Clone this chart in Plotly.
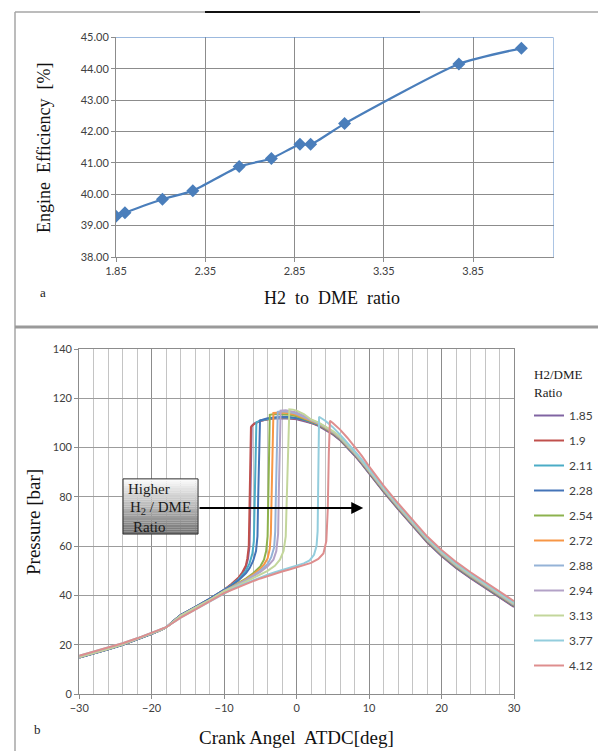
import plotly.graph_objects as go

# ---------------- Panel a: efficiency vs H2/DME ratio ----------------
ratio = [1.85, 1.90, 2.11, 2.28, 2.54, 2.72, 2.88, 2.94, 3.13, 3.77, 4.12]
efficiency = [39.30, 39.41, 39.84, 40.11, 40.88, 41.14, 41.59, 41.59, 42.25, 44.15, 44.65]

# ---------------- Panel b: pressure traces ----------------
series_names = ["1.85", "1.9", "2.11", "2.28", "2.54", "2.72", "2.88", "2.94", "3.13", "3.77", "4.12"]
series_colors = ["#8064A2", "#C0504D", "#4BACC6", "#4474B8", "#8DB24E", "#F79646",
                 "#95B3D7", "#B3A2C7", "#C3D69B", "#93CDDD", "#DE8E8E"]

comp_angle = [-30, -28, -26, -24, -22, -20, -19, -18, -17, -16, -14, -12, -10]
comp_p_early = [14.8, 16.4, 18.1, 20.0, 22.1, 24.4, 25.6, 27.0, 29.6, 32.0, 35.3, 38.6, 42.3]
comp_p_mid = [15.0, 16.6, 18.3, 20.2, 22.3, 24.6, 25.7, 27.0, 29.4, 31.7, 34.9, 38.1, 41.7]
comp_p_late = [15.5, 17.1, 18.8, 20.6, 22.6, 24.9, 25.9, 27.1, 29.0, 31.0, 34.2, 37.5, 40.9]

exp_angle = [2, 3, 4, 5, 6, 7, 8, 9, 10, 12, 14, 16, 18, 20, 22, 24, 26, 28, 30]
exp_angle_late = [8, 9, 10, 12, 14, 16, 18, 20, 22, 24, 26, 28, 30]

# combustion region (angle, pressure) per series
burn_angle_185 = [-9, -8, -7.5, -7, -6.7, -6.5, -6.4, -6.3, -6.2, -5.8, -5, -4, -3, -2, -1, 0, 1]
burn_p_185 = [44.4, 47.0, 48.9, 51.5, 55.0, 60.0, 72.0, 92.0, 108.8, 109.8, 110.8, 111.5, 111.8, 111.9, 111.8, 111.5, 110.9]
exp_p_185 = [110.0, 108.8, 107.2, 105.3, 103.0, 100.0, 96.8, 93.3, 89.5, 82.0, 75.0, 68.2, 61.6, 56.0, 51.2, 47.0, 43.1, 39.2, 35.3]

burn_angle_19 = [-9, -8, -7.5, -7, -6.8, -6.6, -6.5, -6.4, -6.3, -5.9, -5, -4, -3, -2, -1, 0, 1]
burn_p_19 = [44.6, 47.3, 49.3, 52.2, 55.0, 60.0, 72.0, 92.0, 108.3, 109.5, 110.9, 111.6, 112.0, 112.1, 112.0, 111.7, 111.1]
exp_p_19 = [110.2, 109.0, 107.4, 105.5, 103.2, 100.2, 97.0, 93.5, 89.7, 82.2, 75.2, 68.4, 61.8, 56.2, 51.4, 47.2, 43.3, 39.4, 35.5]

burn_angle_211 = [-9, -8, -7, -6.5, -6.1, -5.9, -5.8, -5.7, -5.55, -5, -4, -3, -2, -1, 0, 1]
burn_p_211 = [44.2, 46.6, 50.0, 53.0, 57.0, 62.0, 75.0, 95.0, 110.2, 111.0, 111.7, 112.1, 112.3, 112.2, 111.9, 111.3]
exp_p_211 = [110.4, 109.2, 107.6, 105.7, 103.4, 100.4, 97.2, 93.7, 89.9, 82.4, 75.4, 68.6, 62.0, 56.4, 51.6, 47.4, 43.5, 39.6, 35.7]

burn_angle_228 = [-9, -8, -7, -6.5, -6, -5.6, -5.4, -5.3, -5.2, -5.05, -4, -3, -2, -1, 0, 1]
burn_p_228 = [44.0, 46.2, 49.0, 51.0, 54.0, 58.0, 64.0, 80.0, 100.0, 111.0, 111.9, 112.3, 112.5, 112.4, 112.0, 111.4]
exp_p_228 = [110.5, 109.3, 107.7, 105.8, 103.5, 100.5, 97.3, 93.8, 90.0, 82.5, 75.5, 68.7, 62.1, 56.5, 51.7, 47.5, 43.6, 39.7, 35.8]

burn_angle_254 = [-9, -8, -7, -6, -5, -4.5, -4.2, -4.0, -3.9, -3.8, -3.7, -3, -2, -1, 0, 1]
burn_p_254 = [43.3, 45.0, 46.8, 49.0, 51.8, 54.5, 58.0, 64.0, 80.0, 100.0, 113.3, 113.6, 113.6, 113.3, 112.7, 111.8]
exp_p_254 = [110.7, 109.5, 107.9, 106.0, 103.7, 100.7, 97.5, 94.0, 90.2, 82.7, 75.7, 68.9, 62.3, 56.7, 51.9, 47.7, 43.8, 39.9, 36.0]

burn_angle_272 = [-9, -8, -7, -6, -5, -4.5, -4, -3.7, -3.55, -3.45, -3.35, -3.2, -2, -1, 0, 1]
burn_p_272 = [43.2, 44.8, 46.5, 48.5, 50.8, 52.5, 55.0, 59.0, 65.0, 80.0, 100.0, 114.0, 114.2, 113.9, 113.2, 112.1]
exp_p_272 = [110.8, 109.6, 108.0, 106.1, 103.8, 100.8, 97.6, 94.1, 90.3, 82.8, 75.8, 69.0, 62.4, 56.8, 52.0, 47.8, 43.9, 40.0, 36.1]

burn_angle_288 = [-9, -8, -7, -6, -5, -4, -3.5, -3.1, -2.95, -2.85, -2.75, -2.6, -2, -1, 0, 1]
burn_p_288 = [43.1, 44.6, 46.2, 48.0, 50.0, 52.8, 55.5, 59.5, 66.0, 82.0, 102.0, 114.5, 114.7, 114.4, 113.7, 112.5]
exp_p_288 = [111.0, 109.8, 108.2, 106.3, 104.0, 101.0, 97.8, 94.3, 90.5, 83.0, 76.0, 69.2, 62.6, 57.0, 52.2, 48.0, 44.1, 40.2, 36.3]

burn_angle_294 = [-9, -8, -7, -6, -5, -4, -3.2, -2.8, -2.55, -2.45, -2.35, -2.2, -1.5, -1, 0, 1]
burn_p_294 = [43.0, 44.4, 46.0, 47.7, 49.5, 51.8, 54.5, 58.0, 65.0, 82.0, 102.0, 115.0, 115.1, 114.9, 114.2, 112.9]
exp_p_294 = [111.2, 110.0, 108.4, 106.5, 104.2, 101.2, 98.0, 94.5, 90.7, 83.2, 76.2, 69.4, 62.8, 57.2, 52.4, 48.2, 44.3, 40.4, 36.5]

burn_angle_313 = [-9, -8, -7, -6, -5, -4, -3, -2.3, -1.8, -1.5, -1.35, -1.2, -1.0, -0.5, 0, 1]
burn_p_313 = [42.8, 44.2, 45.6, 47.0, 48.4, 50.0, 52.0, 54.5, 58.0, 64.0, 80.0, 100.0, 115.5, 115.4, 115.0, 113.6]
exp_p_313 = [111.4, 110.2, 108.6, 106.7, 104.4, 101.4, 98.2, 94.7, 90.9, 83.4, 76.4, 69.6, 63.0, 57.4, 52.6, 48.4, 44.5, 40.6, 36.7]

burn_angle_377 = [-9, -8, -7, -6, -5, -4, -3, -2, -1, 0, 1, 1.8, 2.4, 2.75, 2.9, 2.97, 3.03, 3.1, 4, 5, 6, 7]
burn_p_377 = [42.4, 43.8, 45.0, 46.2, 47.3, 48.4, 49.4, 50.3, 51.1, 52.0, 53.0, 54.2, 56.5, 60.0, 66.0, 82.0, 100.0, 112.5, 110.8, 108.3, 105.2, 102.0]
exp_p_377 = [98.6, 95.1, 91.3, 83.8, 76.8, 70.0, 63.4, 57.8, 53.0, 48.8, 44.9, 41.0, 37.1]

burn_angle_412 = [-9, -8, -7, -6, -5, -4, -3, -2, -1, 0, 1, 2, 3, 3.7, 4.1, 4.3, 4.45, 4.6, 5, 6, 7]
burn_p_412 = [42.2, 43.5, 44.7, 45.8, 46.9, 47.9, 48.8, 49.7, 50.5, 51.3, 52.1, 53.2, 54.8, 57.0, 62.0, 75.0, 98.0, 110.9, 110.0, 107.3, 104.0]
exp_p_412 = [100.4, 96.6, 92.4, 84.6, 77.4, 70.6, 64.0, 58.4, 53.6, 49.4, 45.5, 41.6, 37.7]

series_angles = [
    comp_angle + burn_angle_185 + exp_angle,
    comp_angle + burn_angle_19 + exp_angle,
    comp_angle + burn_angle_211 + exp_angle,
    comp_angle + burn_angle_228 + exp_angle,
    comp_angle + burn_angle_254 + exp_angle,
    comp_angle + burn_angle_272 + exp_angle,
    comp_angle + burn_angle_288 + exp_angle,
    comp_angle + burn_angle_294 + exp_angle,
    comp_angle + burn_angle_313 + exp_angle,
    comp_angle + burn_angle_377 + exp_angle_late,
    comp_angle + burn_angle_412 + exp_angle_late,
]
series_pressures = [
    comp_p_early + burn_p_185 + exp_p_185,
    comp_p_early + burn_p_19 + exp_p_19,
    comp_p_early + burn_p_211 + exp_p_211,
    comp_p_early + burn_p_228 + exp_p_228,
    comp_p_mid + burn_p_254 + exp_p_254,
    comp_p_mid + burn_p_272 + exp_p_272,
    comp_p_mid + burn_p_288 + exp_p_288,
    comp_p_mid + burn_p_294 + exp_p_294,
    comp_p_mid + burn_p_313 + exp_p_313,
    comp_p_late + burn_p_377 + exp_p_377,
    comp_p_late + burn_p_412 + exp_p_412,
]

# page body has an 8px default margin: figure is sized to fit the window exactly
OFF = 8
W, H = 606 - OFF, 751 - OFF
def px(v):
    return (v - OFF) / W
def py(v):
    return 1 - (v - OFF) / H

SERIF = "Liberation Serif"
SANS = "Lato"
TICKC = "#404040"

fig = go.Figure()

fig.add_trace(go.Scatter(
    x=ratio, y=efficiency, mode="lines+markers",
    line=dict(color="#4A7EBB", width=2.25, shape="spline", smoothing=0.6),
    marker=dict(symbol="diamond", size=10, color="#4A7EBB"),
    xaxis="x", yaxis="y", showlegend=False,
))

for name, col, xs, ys in zip(series_names, series_colors, series_angles, series_pressures):
    fig.add_trace(go.Scatter(
        x=xs, y=ys, mode="lines", name=name,
        line=dict(color=col, width=2),
        xaxis="x2", yaxis="y2", legendgroup=name,
    ))

common_axis = dict(automargin=False, zeroline=False, showline=True, linecolor="#8C8C8C",
                   ticks="outside", ticklen=4, tickcolor="#8C8C8C",
                   tickfont=dict(family=SANS, size=11, color=TICKC))

fig.update_layout(
    width=W, height=H,
    margin=dict(l=0, r=0, t=0, b=0, autoexpand=False),
    paper_bgcolor="white", plot_bgcolor="white",
    xaxis=dict(
        domain=[px(116), px(553.5)], range=[1.85, 4.3], tick0=1.85, dtick=0.5,
        tickformat=".2f", showgrid=True, gridcolor="#8C8C8C", gridwidth=1, anchor="y",
        **common_axis,
    ),
    yaxis=dict(
        domain=[py(257), py(37.3)], range=[38, 45], dtick=1, tickformat=".2f",
        showgrid=True, gridcolor="#8C8C8C", gridwidth=1, anchor="x",
        **common_axis,
    ),
    xaxis2=dict(
        domain=[px(79.2), px(514)], range=[-30, 30], tick0=-30, dtick=10,
        showgrid=True, gridcolor="#8C8C8C", gridwidth=1,
        minor=dict(dtick=2, showgrid=True, gridcolor="#C4C4C4", gridwidth=1),
        mirror=True, anchor="y2",
        **common_axis,
    ),
    yaxis2=dict(
        domain=[py(694), py(349)], range=[0, 140], dtick=20,
        showgrid=True, gridcolor="#9C9C9C", gridwidth=1, mirror=True, anchor="x2",
        **common_axis,
    ),
    legend=dict(
        x=px(529), y=py(401), xanchor="left", yanchor="top",
        font=dict(family=SANS, size=12, color=TICKC),
        tracegroupgap=6, bgcolor="rgba(0,0,0,0)", itemwidth=30,
    ),
    showlegend=True,
)

shapes = []
# outer frame lines
shapes.append(dict(type="line", xref="paper", yref="paper", x0=px(15), x1=px(15), y0=0, y1=py(12),
                   line=dict(color="#A6A6A6", width=1.5)))
shapes.append(dict(type="line", xref="paper", yref="paper", x0=px(15), x1=1, y0=py(12), y1=py(12),
                   line=dict(color="#A6A6A6", width=1.5)))
shapes.append(dict(type="line", xref="paper", yref="paper", x0=px(205), x1=px(420), y0=py(12), y1=py(12),
                   line=dict(color="#111111", width=2)))
shapes.append(dict(type="line", xref="paper", yref="paper", x0=px(15), x1=1, y0=py(327), y1=py(327),
                   line=dict(color="#9A9A9A", width=3)))
# blue plot-area border (top/right) of panel a
shapes.append(dict(type="line", xref="x", yref="y", x0=1.85, x1=4.3, y0=45, y1=45,
                   line=dict(color="#5B8BC9", width=1)))
shapes.append(dict(type="line", xref="x", yref="y", x0=4.3, x1=4.3, y0=38, y1=45,
                   line=dict(color="#5B8BC9", width=1)))

# gradient text box in panel b
bx0, bx1, by0, by1 = -23.95, -13.6, 64.9, 87.3
n = 24
for i in range(n):
    t = i / (n - 1)
    g = int(250 - t * 135)
    ya = by1 - (by1 - by0) * i / n
    yb = by1 - (by1 - by0) * (i + 1) / n
    shapes.append(dict(type="rect", xref="x2", yref="y2", x0=bx0, x1=bx1, y0=yb, y1=ya,
                       fillcolor=f"rgb({g},{g},{g})", line=dict(width=0), layer="above"))
shapes.append(dict(type="rect", xref="x2", yref="y2", x0=bx0, x1=bx1, y0=by0, y1=by1,
                   fillcolor="rgba(0,0,0,0)", line=dict(color="#303030", width=1), layer="above"))
fig.update_layout(shapes=shapes)

def pann(x, y, text, size, angle=0, color="#111111", xanchor="center"):
    return dict(xref="paper", yref="paper", x=px(x), y=py(y), text=text, textangle=angle,
                xanchor=xanchor, yanchor="middle", showarrow=False,
                font=dict(family=SERIF, size=size, color=color))

ann = [
    pann(44, 148, "Engine  Efficiency  [%]", 18, -90),
    pann(332, 298, "H2  to  DME  ratio", 18),
    pann(43, 292, "a", 13, 0, "#222222"),
    pann(33, 522, "Pressure [bar]", 19, -90),
    pann(296, 737, "Crank Angel  ATDC[deg]", 19),
    pann(37, 729, "b", 13, 0, "#222222"),
    pann(532, 375, "H2/DME", 13, 0, "#222222", "left"),
    pann(532, 392, "Ratio", 13, 0, "#222222", "left"),
]
# arrow
ann.append(dict(xref="x2", yref="y2", axref="x2", ayref="y2", x=9.2, y=75.5, ax=-13.6, ay=75.5,
                text="", showarrow=True, arrowhead=2, arrowsize=1.2, arrowwidth=2, arrowcolor="#000000"))
# box text
ann.append(dict(xref="x2", yref="y2", x=-23.6, y=83.3, text="Higher", xanchor="left", yanchor="middle",
                showarrow=False, font=dict(family=SERIF, size=15, color="#1a1a1a")))
ann.append(dict(xref="x2", yref="y2", x=-23.2, y=75.5, text="H<sub>2</sub> / DME", xanchor="left", yanchor="middle",
                showarrow=False, font=dict(family=SERIF, size=15, color="#1a1a1a")))
ann.append(dict(xref="x2", yref="y2", x=-22.8, y=67.9, text="Ratio", xanchor="left", yanchor="middle",
                showarrow=False, font=dict(family=SERIF, size=15, color="#1a1a1a")))
fig.update_layout(annotations=ann)

fig.write_html("out.html")
